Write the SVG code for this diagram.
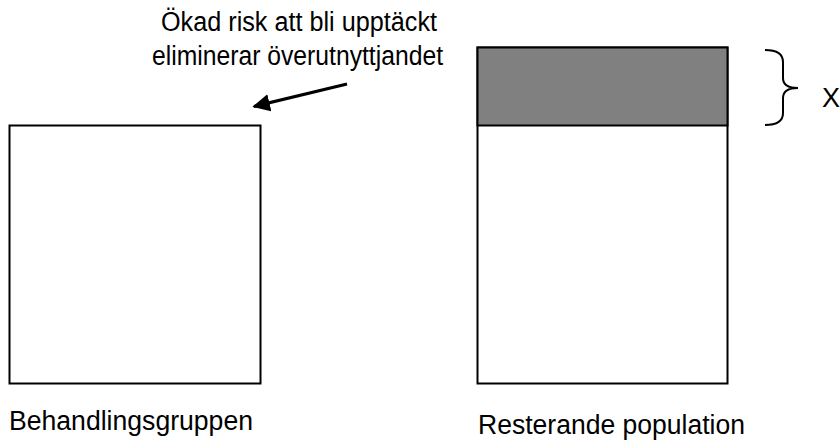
<svg xmlns="http://www.w3.org/2000/svg" width="840" height="441" viewBox="0 0 840 441">
<style>
.t{font-family:"Liberation Sans",Arial,sans-serif;font-size:27px;fill:#000}
.box{fill:#fff;stroke:#000;stroke-width:2}
</style>
<defs>
<marker id="ah" viewBox="0 0 10 10" refX="9" refY="5" markerWidth="5.5" markerHeight="5.5" orient="auto" markerUnits="strokeWidth">
<path d="M0,0 L10,5 L0,10 z" fill="#000"/>
</marker>
</defs>
<rect width="840" height="441" fill="#fff"/>
<g id="behandlingsgruppen">
<rect class="box" x="9.5" y="125.5" width="251" height="258"/>
<text class="t" x="9" y="430" textLength="244" lengthAdjust="spacingAndGlyphs">Behandlingsgruppen</text>
</g>
<g id="resterande">
<rect class="box" x="477.5" y="47.5" width="250" height="336"/>
<rect x="477.5" y="47.5" width="250" height="78" fill="#808080" stroke="#000" stroke-width="2"/>
<text class="t" x="478" y="434" textLength="267" lengthAdjust="spacingAndGlyphs">Resterande population</text>
</g>
<g id="annotation">
<text class="t" x="161" y="31" textLength="276" lengthAdjust="spacingAndGlyphs">Ökad risk att bli upptäckt</text>
<text class="t" x="152" y="65" textLength="291" lengthAdjust="spacingAndGlyphs">eliminerar överutnyttjandet</text>
</g>
<g id="x-label">
<path d="M765,50 Q783,50 783,62 L783,78 Q783,88 798,88 Q783,88 783,98 L783,113 Q783,125 765,125" fill="none" stroke="#000" stroke-width="2"/>
<text class="t" x="822" y="107">X</text>
</g>
<g id="connectors">
<line x1="347" y1="84" x2="254" y2="106.5" stroke="#000" stroke-width="3.2" marker-end="url(#ah)"/>
</g>
</svg>
